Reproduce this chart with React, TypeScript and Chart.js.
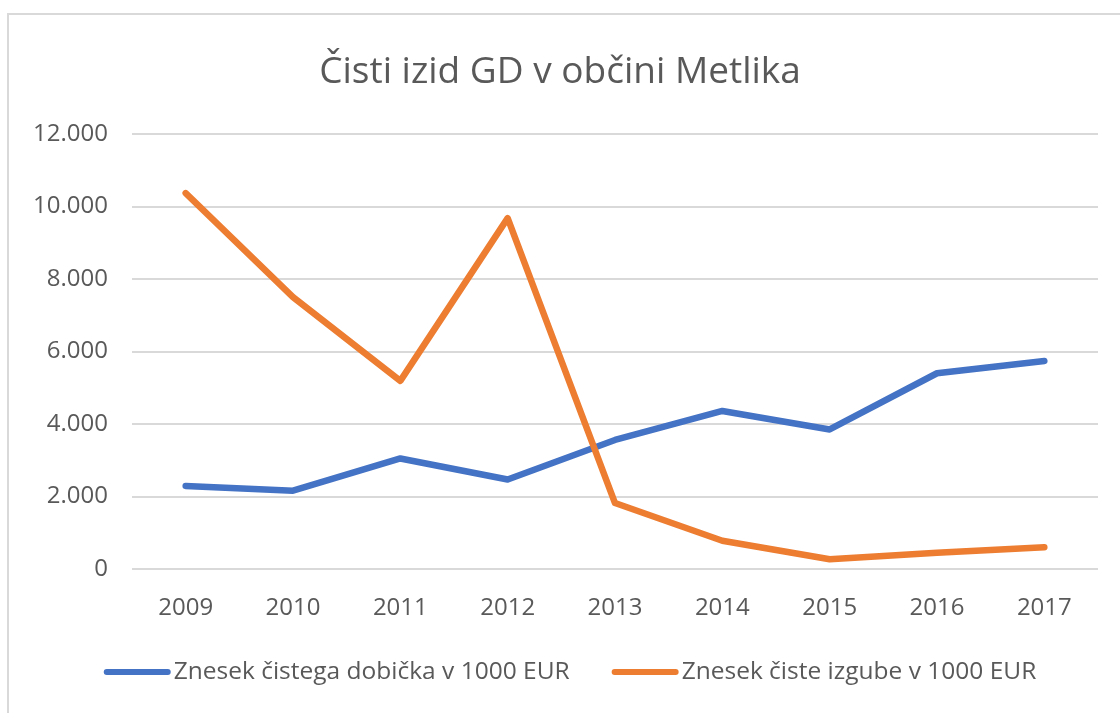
import React, { useEffect, useRef } from "react";
import { Chart, registerables } from "chart.js";

Chart.register(...registerables);

const title = "Čisti izid GD v občini Metlika";
const years = ["2009", "2010", "2011", "2012", "2013", "2014", "2015", "2016", "2017"];
const profit = [2290, 2160, 3050, 2470, 3560, 4360, 3850, 5400, 5740];
const loss = [10370, 7500, 5190, 9680, 1820, 780, 270, 450, 600];
const seriesNames = ["Znesek čistega dobička v 1000 EUR", "Znesek čiste izgube v 1000 EUR"];
const seriesColors = ["#4472C4", "#ED7D31"];
const yTicks = [0, 2000, 4000, 6000, 8000, 10000, 12000];

const FONT = "'Open Sans', 'Noto Sans', sans-serif";
const TEXT = "#595959";

function fmt(v: number): string {
  const s = Math.round(v).toString();
  return s.replace(/\B(?=(\d{3})+(?!\d))/g, ".");
}

const decor = {
  id: "decor",
  beforeDraw(chart: any) {
    const ctx = chart.ctx;
    ctx.save();
    ctx.strokeStyle = "#d9d9d9";
    ctx.lineWidth = 2;
    ctx.beginPath();
    ctx.moveTo(8, 720);
    ctx.lineTo(8, 14);
    ctx.lineTo(1130, 14);
    ctx.stroke();
    ctx.restore();
  },
  afterDraw(chart: any) {
    const ctx = chart.ctx;
    ctx.save();
    ctx.fillStyle = TEXT;
    ctx.textBaseline = "alphabetic";
    ctx.textAlign = "center";
    ctx.font = `37px ${FONT}`;
    ctx.fillText(title, 560, 83);

    ctx.font = `24.5px ${FONT}`;
    ctx.textAlign = "left";
    ctx.textBaseline = "middle";
    const lineLen = 67;
    const gap = 3;
    const itemGap = 42;
    const widths = seriesNames.map((n) => ctx.measureText(n).width);
    const total = widths.reduce((a, w) => a + lineLen + gap + w, 0) + itemGap * (seriesNames.length - 1);
    let x = 570 - total / 2;
    const y = 672;
    seriesNames.forEach((n, i) => {
      ctx.strokeStyle = seriesColors[i];
      ctx.lineWidth = 6;
      ctx.lineCap = "round";
      ctx.beginPath();
      ctx.moveTo(x + 3, y);
      ctx.lineTo(x + lineLen - 3, y);
      ctx.stroke();
      ctx.fillStyle = TEXT;
      ctx.fillText(n, x + lineLen + gap, y);
      x += lineLen + gap + widths[i] + itemGap;
    });
    ctx.restore();
  },
};

export default function App() {
  const ref = useRef<HTMLCanvasElement | null>(null);
  useEffect(() => {
    if (!ref.current) return;
    const chart = new Chart(ref.current, {
      type: "line",
      data: {
        labels: years,
        datasets: [
          {
            label: seriesNames[0],
            data: profit,
            borderColor: seriesColors[0],
            backgroundColor: seriesColors[0],
            borderWidth: 6.5,
            pointRadius: 0,
            tension: 0,
            borderCapStyle: "round",
            borderJoinStyle: "round",
            order: 2,
          },
          {
            label: seriesNames[1],
            data: loss,
            borderColor: seriesColors[1],
            backgroundColor: seriesColors[1],
            borderWidth: 6.5,
            pointRadius: 0,
            tension: 0,
            borderCapStyle: "round",
            borderJoinStyle: "round",
            order: 1,
          },
        ],
      },
      options: {
        responsive: false,
        animation: false,
        layout: { padding: { left: 0, right: 22, top: 134, bottom: 0 } },
        plugins: {
          legend: { display: false },
          title: { display: false },
          tooltip: { enabled: false },
        },
        scales: {
          x: {
            offset: true,
            grid: { display: false },
            border: { display: false },
            ticks: { color: TEXT, font: { family: FONT, size: 24 }, padding: 17, maxRotation: 0 },
            afterFit: (s: any) => {
              s.height = 144;
            },
          },
          y: {
            min: 0,
            max: 12000,
            afterBuildTicks: (s: any) => {
              s.ticks = yTicks.map((v) => ({ value: v }));
            },
            grid: { color: "#d9d9d9", lineWidth: 2, drawTicks: false },
            border: { display: false },
            ticks: {
              color: TEXT,
              font: { family: FONT, size: 24 },
              padding: 24,
              callback: (v: any) => fmt(Number(v)),
            },
            afterFit: (s: any) => {
              s.width = 132;
            },
          },
        },
      },
      plugins: [decor],
    });
    return () => chart.destroy();
  }, []);
  return (
    <div style={{ position: "absolute", left: 0, top: 0, width: 1120, height: 713, background: "#fff" }}>
      <canvas ref={ref} width={1120} height={713} style={{ display: "block" }} />
    </div>
  );
}
